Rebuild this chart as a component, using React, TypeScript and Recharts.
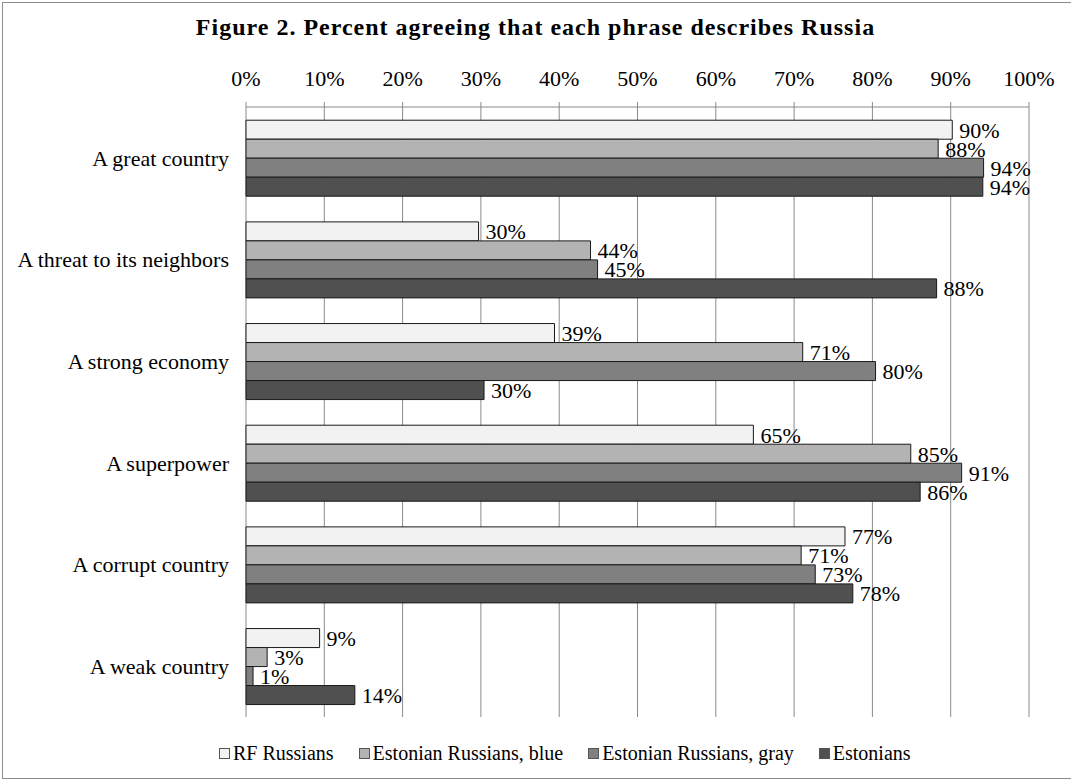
import React from 'react';
import { BarChart, Bar, XAxis, YAxis, CartesianGrid, LabelList } from 'recharts';

// values (percent agreeing)
const categories = [
  'A great country',
  'A threat to its neighbors',
  'A strong economy',
  'A superpower',
  'A corrupt country',
  'A weak country',
];
const rfRussians = [90.2, 29.7, 39.4, 64.8, 76.5, 9.4];
const estRussiansBlue = [88.4, 44.0, 71.1, 84.9, 70.9, 2.7];
const estRussiansGray = [94.2, 44.9, 80.4, 91.4, 72.7, 0.9];
const estonians = [94.1, 88.2, 30.4, 86.1, 77.5, 13.9];
const xTicks = [0, 10, 20, 30, 40, 50, 60, 70, 80, 90, 100];

const series = [
  { key: 'rf', name: 'RF Russians', fill: '#f2f2f2', values: rfRussians },
  { key: 'blue', name: 'Estonian Russians, blue', fill: '#b3b3b3', values: estRussiansBlue },
  { key: 'gray', name: 'Estonian Russians, gray', fill: '#808080', values: estRussiansGray },
  { key: 'est', name: 'Estonians', fill: '#505050', values: estonians },
];

const data = categories.map((name, i) => {
  const row: Record<string, string | number> = { name };
  series.forEach((s) => {
    row[s.key] = s.values[i];
  });
  return row;
});

const FONT = '"Liberation Serif", "Times New Roman", serif';
const GRID = '#8a8a8a';

export default function App() {
  return (
    <div
      style={{
        position: 'absolute',
        left: 0,
        top: 0,
        width: 1071,
        height: 780,
        overflow: 'hidden',
        background: '#fff',
        fontFamily: FONT,
      }}
    >
      <div
        style={{
          position: 'absolute',
          left: 2,
          top: 2,
          width: 1080,
          height: 775,
          border: '1px solid #8c8c8c',
        }}
      />
      <div
        style={{
          position: 'absolute',
          left: 0,
          top: 14,
          width: 1071,
          textAlign: 'center',
          fontWeight: 'bold',
          fontSize: 24,
          letterSpacing: 1,
          color: '#000',
        }}
      >
        Figure 2. Percent agreeing that each phrase describes Russia
      </div>
      <div style={{ position: 'absolute', left: 0, top: 0 }}>
        <BarChart
          width={1071}
          height={780}
          data={data}
          layout="vertical"
          margin={{ top: 67, right: 42, left: 0, bottom: 63 }}
          barCategoryGap="13%"
          barGap={0}
        >
          <CartesianGrid horizontal={false} stroke={GRID} yAxisId="cat" />
          <XAxis
            type="number"
            orientation="top"
            domain={[0, 100]}
            ticks={xTicks}
            tickFormatter={(v) => `${v}%`}
            height={40}
            axisLine={{ stroke: GRID }}
            tickLine={{ stroke: GRID }}
            tickSize={5}
            tickMargin={16}
            tick={{ fill: '#000', fontSize: 22, fontFamily: FONT }}
          />
          <YAxis
            yAxisId="cat"
            type="category"
            dataKey="name"
            width={246}
            axisLine={false}
            tickLine={false}
            tickSize={0}
            tickMargin={17}
            tick={{ fill: '#000', fontSize: 22, fontFamily: FONT }}
          />
          <YAxis
            yAxisId="edge"
            type="number"
            domain={[0, 6]}
            ticks={[0, 1, 2, 3, 4, 5, 6]}
            width={0}
            tick={false}
            tickSize={6}
            axisLine={{ stroke: GRID, strokeWidth: 1.5 }}
            tickLine={{ stroke: GRID }}
          />
          {series.map((s) => (
            <Bar
              key={s.key}
              yAxisId="cat"
              dataKey={s.key}
              name={s.name}
              fill={s.fill}
              stroke="#1a1a1a"
              strokeWidth={1}
              isAnimationActive={false}
            >
              <LabelList
                dataKey={s.key}
                position="right"
                offset={7}
                formatter={(v: number) => `${Math.round(v)}%`}
                style={{ fill: '#000', fontSize: 22, fontFamily: FONT }}
              />
            </Bar>
          ))}
        </BarChart>
      </div>
      <div
        style={{
          position: 'absolute',
          left: 219,
          top: 742,
          display: 'flex',
          gap: 25,
          fontSize: 20,
          color: '#000',
        }}
      >
        {series.map((s) => (
          <div key={s.key} style={{ display: 'flex', alignItems: 'center' }}>
            <span
              style={{
                display: 'inline-block',
                width: 9,
                height: 9,
                background: s.fill,
                border: '1px solid #555',
                marginRight: 3,
              }}
            />
            <span>{s.name}</span>
          </div>
        ))}
      </div>
    </div>
  );
}
